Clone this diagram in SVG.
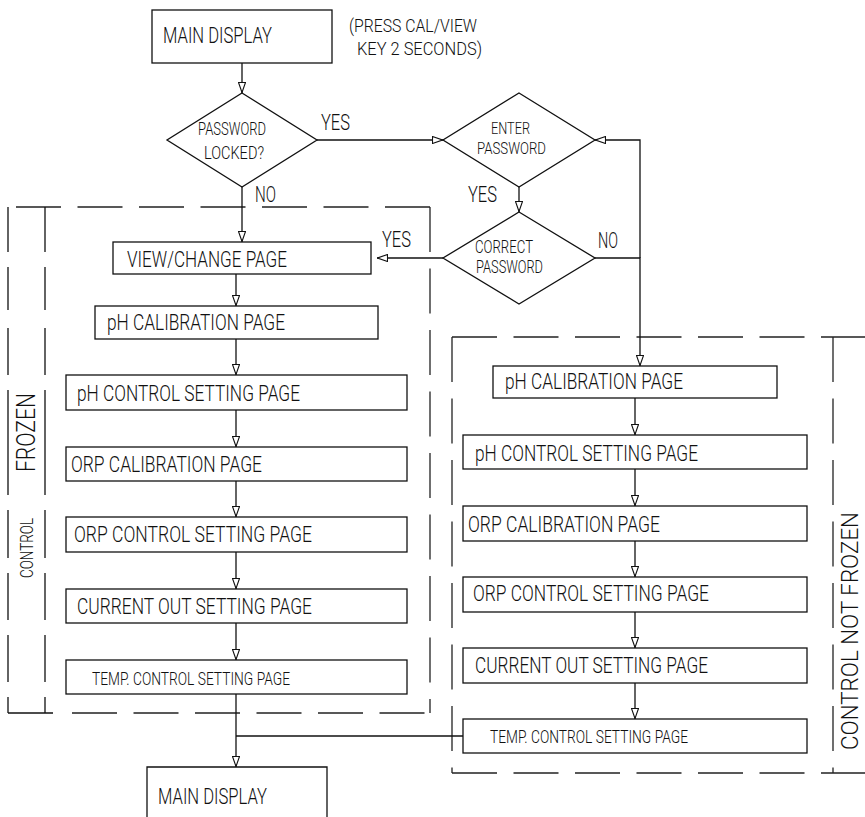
<svg xmlns="http://www.w3.org/2000/svg" width="865" height="817" viewBox="0 0 865 817">
<defs>
<style>
.b{fill:#fff;stroke:#111;stroke-width:1.3}
.l{fill:none;stroke:#111;stroke-width:1.3}
.d{fill:none;stroke:#222;stroke-width:1.3;stroke-dasharray:45 16.5}
text{font-family:Roboto,"Liberation Sans",Arial,sans-serif;font-weight:300;fill:#111}
.t{font-size:22px}
.s{font-size:18.5px}
.q{font-size:18px}
.p{font-size:16.5px}
</style>
<marker id="a" viewBox="0 0 11 8" refX="11" refY="4" markerWidth="11" markerHeight="8" markerUnits="userSpaceOnUse" orient="auto">
<path d="M0.5,0.5 L10.5,4 L0.5,7.5 z" fill="#fff" stroke="#111" stroke-width="1.1"/>
</marker>
</defs>
<rect width="865" height="817" fill="#fff"/>

<g id="frames">
<path class="d" d="M16,207 H430"/>
<path class="d" d="M430,207 V713"/>
<path class="l" d="M8,713 H53"/>
<path class="d" d="M72,713 H430"/>
<path class="l" d="M8,207 V252 M8,267 V310 M8,328 V375 M8,390 V495 M8,510 V558 M8,573 V620 M8,635 V682 M8,697 V713"/>
<path class="l" d="M45,207 V252 M45,267 V310 M45,328 V375 M45,390 V495 M45,510 V558 M45,573 V620 M45,635 V682 M45,697 V713"/>
<path class="d" d="M452,337 H865"/>
<path class="d" d="M452,337 V773"/>
<path class="d" d="M452,773 H865"/>
<path class="d" d="M833,337 V773"/>
<text transform="translate(35,472) rotate(-90)" style="font-size:26px" textLength="79" lengthAdjust="spacingAndGlyphs">FROZEN</text>
<text transform="translate(33,578) rotate(-90)" style="font-size:19px" textLength="60" lengthAdjust="spacingAndGlyphs">CONTROL</text>
<text transform="translate(858,750) rotate(-90)" style="font-size:23px" textLength="238" lengthAdjust="spacingAndGlyphs">CONTROL NOT FROZEN</text>
</g>

<g id="connectors">
<path class="l" d="M242,63 V93" marker-end="url(#a)"/>
<path class="l" d="M317,140 H443" marker-end="url(#a)"/>
<path class="l" d="M640,258 V140 H595" marker-end="url(#a)"/>
<path class="l" d="M595,258 H640 V366" marker-end="url(#a)"/>
<path class="l" d="M519,187 V212" marker-end="url(#a)"/>
<path class="l" d="M443,258 H377" marker-end="url(#a)"/>
<path class="l" d="M242,187 V242" marker-end="url(#a)"/>
<path class="l" d="M236,274 V306" marker-end="url(#a)"/>
<path class="l" d="M236,339 V375" marker-end="url(#a)"/>
<path class="l" d="M236,410 V447" marker-end="url(#a)"/>
<path class="l" d="M236,481 V517" marker-end="url(#a)"/>
<path class="l" d="M236,552 V589" marker-end="url(#a)"/>
<path class="l" d="M236,623 V660" marker-end="url(#a)"/>
<path class="l" d="M236,694 V767" marker-end="url(#a)"/>
<path class="l" d="M236,736 H463"/>
<path class="l" d="M635,398 V435" marker-end="url(#a)"/>
<path class="l" d="M635,469 V506" marker-end="url(#a)"/>
<path class="l" d="M635,541 V577" marker-end="url(#a)"/>
<path class="l" d="M635,612 V648" marker-end="url(#a)"/>
<path class="l" d="M635,683 V719" marker-end="url(#a)"/>
<text class="t" x="321" y="130" textLength="29" lengthAdjust="spacingAndGlyphs">YES</text>
<text class="t" x="255" y="202" textLength="21" lengthAdjust="spacingAndGlyphs">NO</text>
<text class="t" x="468" y="202" textLength="29" lengthAdjust="spacingAndGlyphs">YES</text>
<text class="t" x="382" y="247" textLength="29" lengthAdjust="spacingAndGlyphs">YES</text>
<text class="t" x="598" y="248" textLength="20" lengthAdjust="spacingAndGlyphs">NO</text>
</g>

<g id="main-display-top">
<rect class="b" x="152" y="10" width="180" height="53"/>
<text class="t" x="163" y="43" textLength="109" lengthAdjust="spacingAndGlyphs">MAIN DISPLAY</text>
</g>
<g id="note">
<text class="s" x="349" y="32" textLength="128" lengthAdjust="spacingAndGlyphs">(PRESS CAL/VIEW</text>
<text class="s" x="357" y="55" textLength="125" lengthAdjust="spacingAndGlyphs">KEY 2 SECONDS)</text>
</g>
<g id="password-locked">
<path class="b" d="M242,93 L317,140 L242,187 L167,140 Z"/>
<text class="q" x="198" y="135" textLength="68" lengthAdjust="spacingAndGlyphs">PASSWORD</text>
<text class="q" x="204" y="159" textLength="60" lengthAdjust="spacingAndGlyphs">LOCKED?</text>
</g>
<g id="enter-password">
<path class="b" d="M519,93 L595,140 L519,187 L443,140 Z"/>
<text class="p" x="491" y="134" textLength="39" lengthAdjust="spacingAndGlyphs">ENTER</text>
<text class="p" x="477" y="154" textLength="69" lengthAdjust="spacingAndGlyphs">PASSWORD</text>
</g>
<g id="correct-password">
<path class="b" d="M519,212 L595,258 L519,304 L443,258 Z"/>
<text class="q" x="475" y="253" textLength="58" lengthAdjust="spacingAndGlyphs">CORRECT</text>
<text class="q" x="476" y="273" textLength="67" lengthAdjust="spacingAndGlyphs">PASSWORD</text>
</g>

<g id="view-change">
<rect class="b" x="113" y="242" width="258" height="32"/>
<text class="t" x="127" y="267" textLength="160" lengthAdjust="spacingAndGlyphs">VIEW/CHANGE PAGE</text>
</g>
<g id="l-ph-cal">
<rect class="b" x="95" y="306" width="283" height="33"/>
<text class="t" x="107" y="330" textLength="178" lengthAdjust="spacingAndGlyphs">pH CALIBRATION PAGE</text>
</g>
<g id="l-ph-control">
<rect class="b" x="66" y="375" width="341" height="35"/>
<text class="t" x="77" y="401" textLength="223" lengthAdjust="spacingAndGlyphs">pH CONTROL SETTING PAGE</text>
</g>
<g id="l-orp-cal">
<rect class="b" x="66" y="447" width="341" height="34"/>
<text class="t" x="71" y="472" textLength="191" lengthAdjust="spacingAndGlyphs">ORP CALIBRATION PAGE</text>
</g>
<g id="l-orp-control">
<rect class="b" x="66" y="517" width="341" height="35"/>
<text class="t" x="74" y="542" textLength="238" lengthAdjust="spacingAndGlyphs">ORP CONTROL SETTING PAGE</text>
</g>
<g id="l-current-out">
<rect class="b" x="66" y="589" width="341" height="34"/>
<text class="t" x="77" y="614" textLength="235" lengthAdjust="spacingAndGlyphs">CURRENT OUT SETTING PAGE</text>
</g>
<g id="l-temp">
<rect class="b" x="66" y="660" width="341" height="34"/>
<text class="s" x="92" y="685" textLength="198" lengthAdjust="spacingAndGlyphs">TEMP. CONTROL SETTING PAGE</text>
</g>
<g id="main-display-bottom">
<path class="b" d="M147,818 V767 H327 V818"/>
<text class="t" x="158" y="804" textLength="109" lengthAdjust="spacingAndGlyphs">MAIN DISPLAY</text>
</g>

<g id="r-ph-cal">
<rect class="b" x="493" y="366" width="284" height="32"/>
<text class="t" x="505" y="389" textLength="178" lengthAdjust="spacingAndGlyphs">pH CALIBRATION PAGE</text>
</g>
<g id="r-ph-control">
<rect class="b" x="463" y="435" width="344" height="34"/>
<text class="t" x="475" y="461" textLength="223" lengthAdjust="spacingAndGlyphs">pH CONTROL SETTING PAGE</text>
</g>
<g id="r-orp-cal">
<rect class="b" x="463" y="506" width="344" height="35"/>
<text class="t" x="468" y="532" textLength="192" lengthAdjust="spacingAndGlyphs">ORP CALIBRATION PAGE</text>
</g>
<g id="r-orp-control">
<rect class="b" x="463" y="577" width="344" height="35"/>
<text class="t" x="473" y="601" textLength="236" lengthAdjust="spacingAndGlyphs">ORP CONTROL SETTING PAGE</text>
</g>
<g id="r-current-out">
<rect class="b" x="463" y="648" width="344" height="35"/>
<text class="t" x="475" y="673" textLength="233" lengthAdjust="spacingAndGlyphs">CURRENT OUT SETTING PAGE</text>
</g>
<g id="r-temp">
<rect class="b" x="463" y="719" width="344" height="34"/>
<text class="s" x="490" y="743" textLength="198" lengthAdjust="spacingAndGlyphs">TEMP. CONTROL SETTING PAGE</text>
</g>
</svg>
